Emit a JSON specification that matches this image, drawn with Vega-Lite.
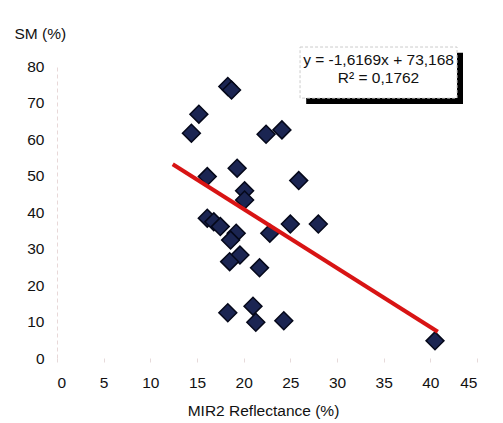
{
  "$schema": "https://vega.github.io/schema/vega-lite/v6.json",
  "width": 420,
  "height": 292,
  "padding": {"left": 57, "top": 66, "right": 26, "bottom": 65},
  "autosize": {"type": "none"},
  "background": "white",
  "config": {"view": {"stroke": null}, "font": "Liberation Sans"},
  "datasets": {
    "pts": [
      {"x": 14.4, "y": 61.6}, {"x": 15.2, "y": 66.8}, {"x": 18.3, "y": 74.4}, {"x": 18.7, "y": 73.4},
      {"x": 16.1, "y": 49.7}, {"x": 19.3, "y": 52.0}, {"x": 22.4, "y": 61.3}, {"x": 24.1, "y": 62.5},
      {"x": 25.9, "y": 48.6}, {"x": 20.1, "y": 45.8}, {"x": 20.1, "y": 43.3}, {"x": 16.1, "y": 38.3},
      {"x": 16.8, "y": 37.3}, {"x": 17.5, "y": 36.0}, {"x": 19.2, "y": 34.2}, {"x": 18.6, "y": 32.3},
      {"x": 22.8, "y": 34.2}, {"x": 25.0, "y": 36.7}, {"x": 28.0, "y": 36.7}, {"x": 19.6, "y": 28.2},
      {"x": 18.5, "y": 26.4}, {"x": 21.7, "y": 24.7}, {"x": 18.3, "y": 12.4}, {"x": 21.0, "y": 14.2},
      {"x": 21.3, "y": 9.8}, {"x": 24.3, "y": 10.2}, {"x": 40.5, "y": 4.7}
    ],
    "trend": [{"x": 12.4, "y": 53.1}, {"x": 40.8, "y": 7.2}],
    "shadow": [{"x": 26.7, "x2": 43.5, "y": 83.6, "y2": 69.6}],
    "box": [{"x": 26.04, "x2": 42.86, "y": 85.2, "y2": 71.2}],
    "labels": [
      {"x": 34.45, "y": 81.6, "t": "y = -1,6169x + 73,168"},
      {"x": 34.45, "y": 76.7, "t": "R² = 0,1762"}
    ]
  },
  "encoding": {
    "x": {
      "field": "x", "type": "quantitative",
      "scale": {"domain": [0, 45], "nice": false, "zero": false},
      "axis": {
        "values": [0, 5, 10, 15, 20, 25, 30, 35, 40, 45],
        "labelOverlap": false,
        "title": "MIR2 Reflectance (%)",
        "titleFont": "Liberation Sans", "titleFontSize": 15.5, "titleFontWeight": "normal", "titleColor": "#111",
        "titleBaseline": "middle", "titleY": 52, "titleX": 206,
        "labelFont": "Liberation Sans", "labelFontSize": 15.5, "labelColor": "#111", "labelPadding": 13,
        "domain": false, "ticks": true, "tickColor": "#e6dada", "tickSize": 4, "grid": false
      }
    },
    "y": {
      "field": "y", "type": "quantitative",
      "scale": {"domain": [0, 80], "nice": false},
      "axis": {
        "values": [0, 10, 20, 30, 40, 50, 60, 70, 80],
        "labelOverlap": false,
        "title": "SM (%)", "titleAngle": 0, "titleAlign": "left", "titleBaseline": "middle",
        "titleX": -43, "titleY": -33,
        "titleFont": "Liberation Sans", "titleFontSize": 15.5, "titleFontWeight": "normal", "titleColor": "#111",
        "labelFont": "Liberation Sans", "labelFontSize": 15.5, "labelColor": "#111", "labelPadding": 13,
        "domain": true, "domainColor": "#e8d8d8", "domainDash": [4, 3], "ticks": false, "grid": false
      }
    }
  },
  "layer": [
    {
      "data": {"name": "pts"},
      "mark": {"type": "point", "shape": "diamond", "filled": true, "size": 320, "color": "#1b2552", "stroke": "#05081a", "strokeWidth": 1.5, "opacity": 1}
    },
    {
      "data": {"name": "trend"},
      "mark": {"type": "line", "color": "#d81414", "strokeWidth": 4}
    },
    {
      "data": {"name": "shadow"},
      "mark": {"type": "rect", "color": "#000"},
      "encoding": {"x2": {"field": "x2"}, "y2": {"field": "y2"}}
    },
    {
      "data": {"name": "box"},
      "mark": {"type": "rect", "fill": "white", "stroke": "#cccccc", "strokeWidth": 1, "strokeDash": [3, 2]},
      "encoding": {"x2": {"field": "x2"}, "y2": {"field": "y2"}}
    },
    {
      "data": {"name": "labels"},
      "mark": {"type": "text", "font": "Liberation Sans", "fontSize": 15.5, "color": "#111", "baseline": "middle", "align": "center"},
      "encoding": {"text": {"field": "t"}}
    }
  ]
}
